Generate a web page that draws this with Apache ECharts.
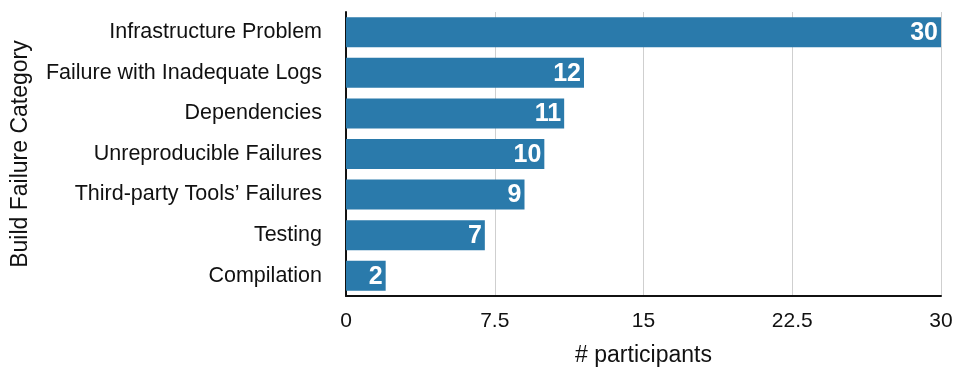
<!DOCTYPE html>
<html><head><meta charset="utf-8">
<script src="https://cdn.jsdelivr.net/npm/echarts@6/dist/echarts.min.js"></script>
<style>html,body{margin:0;padding:0;background:#fff}#c{width:958px;height:374px}</style>
</head><body><div id="c"></div>
<script>
const categories = ["Infrastructure Problem","Failure with Inadequate Logs","Dependencies","Unreproducible Failures","Third-party Tools’ Failures","Testing","Compilation"];
const values = [30,12,11,10,9,7,2];
const xTicks = [0,7.5,15,22.5,30];
const chart = echarts.init(document.getElementById('c'));
const font = '"Liberation Sans", Helvetica, Arial, sans-serif';
chart.setOption({
  animation:false,
  grid:{left:346,right:17,top:12,height:284,outerBoundsMode:'none',containLabel:false},
  xAxis:{type:'value',min:0,max:30,interval:7.5,
    name:'# participants',nameLocation:'middle',nameGap:48,
    nameTextStyle:{fontSize:23,color:'#111',fontFamily:font},
    axisLine:{show:true,lineStyle:{color:'#111',width:2}},
    axisTick:{show:false},
    axisLabel:{fontSize:21,color:'#111',fontFamily:font,margin:15,
      formatter:v=>xTicks.includes(v)?String(v):''},
    splitLine:{show:true,lineStyle:{color:'#cfcfcf',width:1}}},
  yAxis:{type:'category',data:categories.slice().reverse(),
    name:'Build Failure Category',nameLocation:'middle',nameGap:314,nameRotate:90,
    nameTextStyle:{fontSize:23,color:'#111',fontFamily:font},
    axisLine:{show:true,lineStyle:{color:'#111',width:2}},
    axisTick:{show:false},
    axisLabel:{fontSize:21.5,color:'#111',fontFamily:font,margin:24}},
  series:[{type:'bar',data:values.slice().reverse(),barWidth:30,
    itemStyle:{color:'#2a7aab'},
    label:{show:true,position:'insideRight',offset:[2,1],color:'#fff',fontWeight:'bold',fontSize:25,fontFamily:font}}]
});
</script></body></html>
